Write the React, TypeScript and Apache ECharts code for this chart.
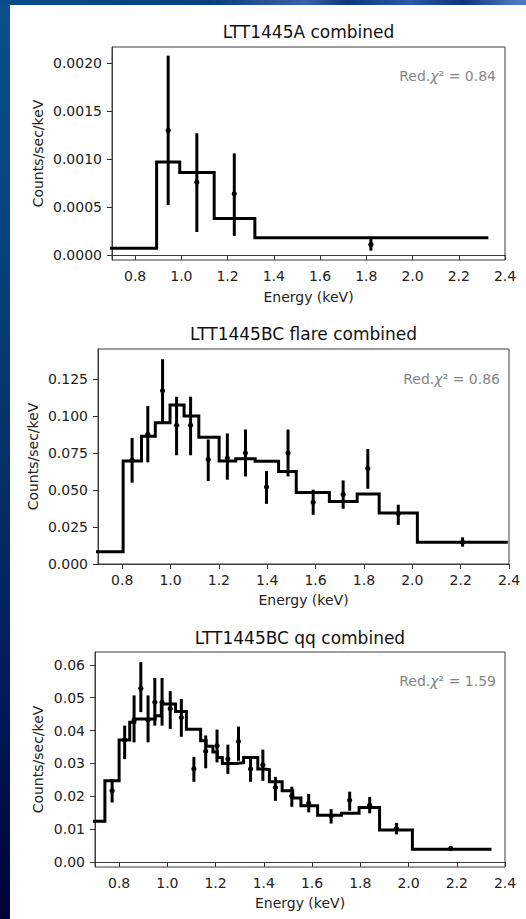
import React, { useEffect, useRef } from "react";
import * as echarts from "echarts";

// Energy axis ticks shared by all three spectra
const energyTicks = [0.8, 1.0, 1.2, 1.4, 1.6, 1.8, 2.0, 2.2, 2.4];

// LTT1445A combined: folded model (bin edges + bin values) and binned data
const aModelEdges = [0.6, 0.893, 0.993, 1.142, 1.318, 2.328];
const aModelValues = [0.00007, 0.00097, 0.00086, 0.00038, 0.00018];
const aEnergy = [0.943, 1.067, 1.229, 1.82];
const aRate = [0.0013, 0.00076, 0.00064, 0.00011];
const aLow = [0.00052, 0.00024, 0.0002, 0.000045];
const aHigh = [0.00208, 0.00127, 0.00106, 0.000175];
const aTicks = [0, 0.0005, 0.001, 0.0015, 0.002];

// LTT1445BC flare combined
const flareModelEdges = [0.6, 0.804, 0.88, 0.937, 0.998, 1.056, 1.117, 1.201, 1.27, 1.35, 1.447, 1.52, 1.657, 1.772, 1.863, 2.021, 2.395];
const flareModelValues = [0.0083, 0.0695, 0.0862, 0.0953, 0.1073, 0.0998, 0.0856, 0.0695, 0.0711, 0.0693, 0.0625, 0.0483, 0.0422, 0.0472, 0.0345, 0.0146];
const flareEnergy = [0.841, 0.906, 0.967, 1.025, 1.083, 1.156, 1.235, 1.31, 1.397, 1.486, 1.59, 1.714, 1.816, 1.942, 2.208];
const flareRate = [0.07, 0.0876, 0.1169, 0.0937, 0.0937, 0.0705, 0.0716, 0.0749, 0.0519, 0.0749, 0.0417, 0.0469, 0.0644, 0.0339, 0.0146];
const flareHigh = [0.0851, 0.1066, 0.1382, 0.1129, 0.1129, 0.084, 0.0881, 0.0908, 0.0627, 0.0908, 0.0501, 0.0564, 0.0776, 0.04, 0.018];
const flareLow = [0.0549, 0.0686, 0.0953, 0.0734, 0.0734, 0.056, 0.0569, 0.0591, 0.0406, 0.0591, 0.0332, 0.0373, 0.0508, 0.0264, 0.0117];
const flareTicks = [0, 0.025, 0.05, 0.075, 0.1, 0.125];

// LTT1445BC qq combined
const qqModelEdges = [0.6, 0.741, 0.8, 0.844, 0.865, 0.95, 0.975, 1.034, 1.079, 1.138, 1.161, 1.189, 1.207, 1.228, 1.286, 1.316, 1.375, 1.399, 1.423, 1.476, 1.52, 1.554, 1.623, 1.722, 1.795, 1.88, 2.016, 2.344];
const qqModelValues = [0.0124, 0.0247, 0.0371, 0.0425, 0.0435, 0.0445, 0.0481, 0.0458, 0.0404, 0.0369, 0.0352, 0.0335, 0.0318, 0.03, 0.0302, 0.0318, 0.0283, 0.0281, 0.0244, 0.0217, 0.0195, 0.0171, 0.0142, 0.0148, 0.0166, 0.0097, 0.0039];
const qqEnergy = [0.771, 0.823, 0.862, 0.89, 0.92, 0.948, 0.978, 1.012, 1.058, 1.11, 1.159, 1.206, 1.251, 1.295, 1.345, 1.396, 1.448, 1.516, 1.586, 1.679, 1.756, 1.839, 1.95, 2.175];
const qqRate = [0.0217, 0.0371, 0.0432, 0.0529, 0.0432, 0.0486, 0.0486, 0.0466, 0.044, 0.0283, 0.0337, 0.0354, 0.0313, 0.0367, 0.0283, 0.0295, 0.0227, 0.0201, 0.0179, 0.014, 0.0188, 0.0173, 0.0102, 0.0041];
const qqHigh = [0.0252, 0.0415, 0.0507, 0.0608, 0.0507, 0.056, 0.056, 0.052, 0.0496, 0.032, 0.0385, 0.0403, 0.0357, 0.0412, 0.032, 0.0342, 0.0259, 0.0229, 0.0207, 0.0161, 0.0214, 0.0198, 0.0119, 0.0046];
const qqLow = [0.0181, 0.0313, 0.0364, 0.0456, 0.0364, 0.0415, 0.0415, 0.0405, 0.0381, 0.0244, 0.0285, 0.0303, 0.0268, 0.0308, 0.0244, 0.0247, 0.0186, 0.0168, 0.0151, 0.0117, 0.0156, 0.0148, 0.0084, 0.0035];
const qqTicks = [0, 0.01, 0.02, 0.03, 0.04, 0.05, 0.06];

const titles = ["LTT1445A combined", "LTT1445BC flare combined", "LTT1445BC qq combined"];
const chiValues = ["0.84", "0.86", "1.59"];

const FONT = "DejaVu Sans";

type Panel = {
  grid: { left: number; top: number; width: number; height: number };
  yMin: number;
  yMax: number;
  yTicks: number[];
  digits: number;
  edges: number[];
  values: number[];
  energy: number[];
  rate: number[];
  low: number[];
  high: number[];
  titleY: number;
  xNameY: number;
  yNameX: number;
  chi: { x: number; y: number };
};

const panels: Panel[] = [
  {
    grid: { left: 112, top: 47, width: 393, height: 213 },
    yMin: -0.000052, yMax: 0.00217, yTicks: aTicks, digits: 4,
    edges: aModelEdges, values: aModelValues,
    energy: aEnergy, rate: aRate, low: aLow, high: aHigh,
    titleY: 32, xNameY: 297, yNameX: 38, chi: { x: 496, y: 76 },
  },
  {
    grid: { left: 98, top: 349, width: 411, height: 215 },
    yMin: 0, yMax: 0.1451, yTicks: flareTicks, digits: 3,
    edges: flareModelEdges, values: flareModelValues,
    energy: flareEnergy, rate: flareRate, low: flareLow, high: flareHigh,
    titleY: 334, xNameY: 600, yNameX: 33, chi: { x: 500, y: 379 },
  },
  {
    grid: { left: 95, top: 652, width: 410, height: 215 },
    yMin: -0.00153, yMax: 0.0639, yTicks: qqTicks, digits: 2,
    edges: qqModelEdges, values: qqModelValues,
    energy: qqEnergy, rate: qqRate, low: qqLow, high: qqHigh,
    titleY: 637.5, xNameY: 903, yNameX: 38, chi: { x: 496, y: 681 },
  },
];

function stepPoints(edges: number[], values: number[]) {
  const pts: number[][] = values.map((v, i) => [edges[i], v]);
  pts.push([edges[edges.length - 1], values[values.length - 1]]);
  return pts;
}

function buildOption() {
  const grids: any[] = [];
  const xAxes: any[] = [];
  const yAxes: any[] = [];
  const series: any[] = [];
  const graphics: any[] = [];

  panels.forEach((p, i) => {
    grids.push({
      ...p.grid,
      show: true,
      borderColor: "#3c3c3c",
      borderWidth: 1,
      backgroundColor: "#ffffff",
    });
    xAxes.push({
      type: "value",
      gridIndex: i,
      min: 0.7,
      max: 2.4,
      axisLine: { show: true, lineStyle: { color: "#3c3c3c", width: 1 } },
      axisTick: { show: true, length: 5, lineStyle: { color: "#333" }, customValues: energyTicks },
      axisLabel: {
        customValues: energyTicks,
        formatter: (v: number) => v.toFixed(1),
        fontFamily: FONT,
        fontSize: 14,
        color: "#222",
        margin: 9,
      },
      splitLine: { show: false },
    });
    yAxes.push({
      type: "value",
      gridIndex: i,
      min: p.yMin,
      max: p.yMax,
      axisLine: { show: true, lineStyle: { color: "#3c3c3c", width: 1 } },
      axisTick: { show: true, length: 5, lineStyle: { color: "#333" }, customValues: p.yTicks },
      axisLabel: {
        customValues: p.yTicks,
        formatter: (v: number) => v.toFixed(p.digits),
        fontFamily: FONT,
        fontSize: 14,
        color: "#222",
        margin: 10,
      },
      splitLine: { show: false },
    });

    series.push({
      type: "line",
      xAxisIndex: i,
      yAxisIndex: i,
      data: stepPoints(p.edges, p.values),
      step: "end",
      showSymbol: false,
      clip: true,
      lineStyle: { color: "#000", width: 3, join: "miter" },
      z: 3,
    });

    series.push({
      type: "custom",
      xAxisIndex: i,
      yAxisIndex: i,
      clip: true,
      data: p.energy.map((e, k) => [e, p.rate[k], p.low[k], p.high[k]]),
      encode: { x: 0, y: [1, 2, 3] },
      renderItem: (_params: any, api: any) => {
        const x = api.value(0);
        const c = api.coord([x, api.value(1)]);
        const lo = api.coord([x, api.value(2)]);
        const hi = api.coord([x, api.value(3)]);
        return {
          type: "group",
          children: [
            {
              type: "line",
              shape: { x1: hi[0], y1: hi[1], x2: lo[0], y2: lo[1] },
              style: { stroke: "#000", lineWidth: 3 },
            },
            {
              type: "circle",
              shape: { cx: c[0], cy: c[1], r: 2.6 },
              style: { fill: "#000" },
            },
          ],
        };
      },
      z: 4,
    });

    const cx = p.grid.left + p.grid.width / 2;
    const cy = p.grid.top + p.grid.height / 2;

    graphics.push({
      type: "text",
      x: cx,
      y: p.titleY,
      style: {
        text: titles[i],
        font: `17px "${FONT}"`,
        fill: "#111",
        align: "center",
        verticalAlign: "middle",
      },
    });
    graphics.push({
      type: "text",
      x: cx,
      y: p.xNameY,
      style: {
        text: "Energy (keV)",
        font: `14px "${FONT}"`,
        fill: "#222",
        align: "center",
        verticalAlign: "middle",
      },
    });
    graphics.push({
      type: "text",
      x: p.yNameX,
      y: cy,
      rotation: Math.PI / 2,
      style: {
        text: "Counts/sec/keV",
        font: `14px "${FONT}"`,
        fill: "#222",
        align: "center",
        verticalAlign: "middle",
      },
    });
    // reduced chi-square of the fit, upper right of each panel
    graphics.push({
      type: "text",
      x: p.chi.x,
      y: p.chi.y,
      style: {
        text: `{n|Red.}{i|χ}{n|² = ${chiValues[i]}}`,
        align: "right",
        verticalAlign: "middle",
        rich: {
          n: { fontFamily: FONT, fontSize: 14, fill: "#858585" },
          i: { fontFamily: FONT, fontSize: 14, fontStyle: "italic", fill: "#858585" },
        },
      },
    });
  });

  return {
    animation: false,
    grid: grids,
    xAxis: xAxes,
    yAxis: yAxes,
    series,
    graphic: { elements: graphics },
  };
}

export default function App() {
  const ref = useRef<HTMLDivElement>(null);

  useEffect(() => {
    if (!ref.current) return;
    const chart = echarts.init(ref.current, undefined, { renderer: "svg" });
    chart.setOption(buildOption());
    return () => chart.dispose();
  }, []);

  return (
    <div
      style={{
        position: "absolute",
        left: 0,
        top: 0,
        width: 526,
        height: 919,
        overflow: "hidden",
        background:
          "linear-gradient(180deg, #0c508b 0%, #08447e 25%, #053468 45%, #052a62 60%, #041856 78%, #010238 100%)",
      }}
    >
      <div
        style={{
          position: "absolute",
          left: 0,
          top: 0,
          width: 526,
          height: 5,
          background:
            "linear-gradient(90deg, #0b4f8a 0%, #0a3f7e 40%, #3a62a8 58%, #0c3a7c 66%, #2a5aa8 78%, #0c347a 88%, #4c78c0 98%)",
        }}
      />
      <div
        style={{
          position: "absolute",
          left: 10,
          top: 5,
          width: 516,
          height: 914,
          background: "#ffffff",
        }}
      />
      <div ref={ref} style={{ position: "absolute", left: 0, top: 0, width: 526, height: 919 }} />
    </div>
  );
}
